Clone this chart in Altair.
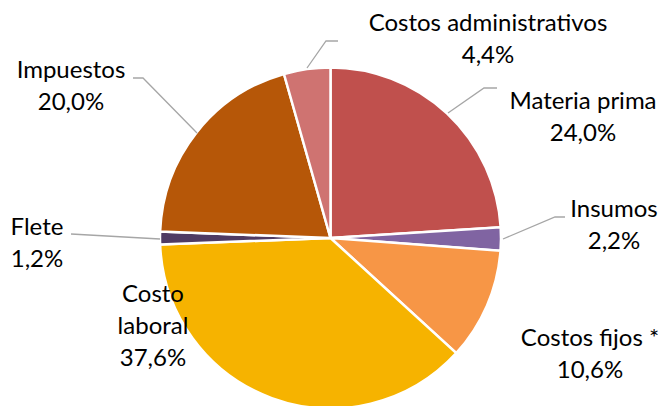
import altair as alt
import pandas as pd

# ---- data ----
categories = ["Materia prima", "Insumos", "Costos fijos *", "Costo laboral",
              "Flete", "Impuestos", "Costos administrativos"]
shares = [24.0, 2.2, 10.6, 37.6, 1.2, 20.0, 4.4]
label_text = ["Materia prima\n24,0%", "Insumos\n2,2%", "Costos fijos *\n10,6%",
              "Costo\nlaboral\n37,6%", "Flete\n1,2%", "Impuestos\n20,0%",
              "Costos administrativos\n4,4%"]
colors = ["#C0504D", "#8064A2", "#F79646", "#F6B300", "#4F3B63", "#B65708", "#CF7371"]

# ---- layout (label anchors and leader lines, chart pixel coords) ----
label_x = [575, 606, 582, 145, 29, 63, 480]
label_y = [94, 202, 331, 287, 220, 63, 16]
leader_group = ["a", "a", "a", "b", "b", "b", "c", "c", "c", "d", "d", "d", "e", "e"]
leader_x = [440, 476, 489, 495, 547, 557, 189, 135, 125, 299, 318, 330, 152, 63]
leader_y = [105, 80, 80, 231, 209, 209, 125, 70, 70, 60, 33, 33, 231, 226]
leader_order = [0, 1, 2, 0, 1, 2, 0, 1, 2, 0, 1, 2, 0, 1]

df = pd.DataFrame({"cat": categories, "share": shares, "order": list(range(len(categories))),
                   "label": label_text, "lx": label_x, "ly": label_y})
lines = pd.DataFrame({"g": leader_group, "x": leader_x, "y": leader_y, "o": leader_order})

cx, cy, r = 322.5, 230, 170.5

pie = alt.Chart(df).mark_arc(radius=r, stroke="white", strokeWidth=2.5).encode(
    theta=alt.Theta("share:Q", stack=True),
    order=alt.Order("order:Q"),
    color=alt.Color("cat:N", scale=alt.Scale(domain=categories, range=colors), legend=None),
    x=alt.value(cx), y=alt.value(cy),
)

leaders = alt.Chart(lines).mark_line(color="#A6A6A6", strokeWidth=1.3).encode(
    x=alt.X("x:Q", scale=None), y=alt.Y("y:Q", scale=None),
    detail="g:N", order="o:Q",
)

labels = alt.Chart(df).mark_text(lineBreak="\n", font="Lato", fontSize=24,
                                 color="#000000", lineHeight=32, baseline="middle",
                                 align="center").encode(
    x=alt.X("lx:Q", scale=None), y=alt.Y("ly:Q", scale=None), text="label:N",
)

chart = alt.layer(pie, leaders, labels).properties(
    width=650, height=420, autosize=alt.AutoSizeParams(type="none"), padding=0,
).configure_view(stroke=None)

chart.save("out.html", embed_options={"renderer": "svg", "actions": False})
